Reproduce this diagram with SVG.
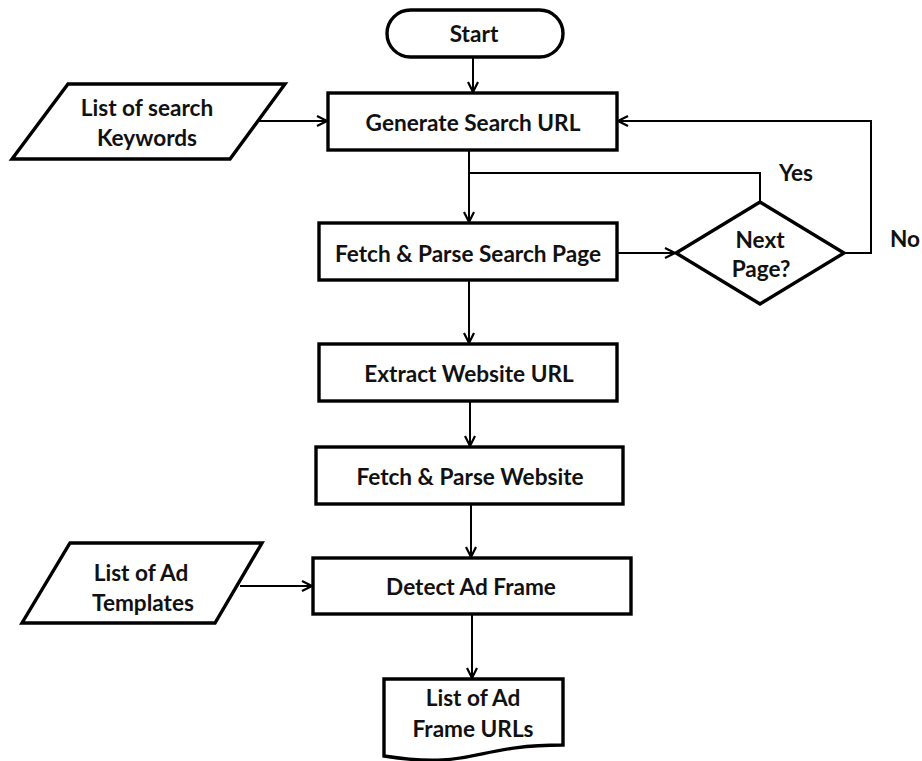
<svg xmlns="http://www.w3.org/2000/svg" width="922" height="761" viewBox="0 0 922 761">
<style>
.shape{fill:#fff;stroke:#000;stroke-width:3.4;stroke-linejoin:miter}
.t{font-family:Lato,"Open Sans",sans-serif;font-weight:bold;font-size:22.6px;fill:#111;text-anchor:middle;dominant-baseline:central}
.c{fill:none;stroke:#000;stroke-width:2}
</style>
<defs>
<marker id="arr" viewBox="0 0 12 12" refX="11" refY="6" markerWidth="12" markerHeight="12" markerUnits="userSpaceOnUse" orient="auto">
<path d="M1,1 L11,6 L1,11" fill="none" stroke="#000" stroke-width="2.2"/>
</marker>
</defs>
<rect width="922" height="761" fill="#fff"/>
<g id="connectors">
<path class="c" d="M473,57 V92" marker-end="url(#arr)"/>
<path class="c" d="M258,121 H327" marker-end="url(#arr)"/>
<path class="c" d="M469,150 V222" marker-end="url(#arr)"/>
<path class="c" d="M760,202 V173 H469"/>
<path class="c" d="M617,253 H675" marker-end="url(#arr)"/>
<path class="c" d="M844,253 H871 V121 H618" marker-end="url(#arr)"/>
<path class="c" d="M469,280 V343" marker-end="url(#arr)"/>
<path class="c" d="M470,401 V446" marker-end="url(#arr)"/>
<path class="c" d="M471,504 V557" marker-end="url(#arr)"/>
<path class="c" d="M240,586 H312" marker-end="url(#arr)"/>
<path class="c" d="M472,614 V678" marker-end="url(#arr)"/>
</g>
<g id="start">
<rect class="shape" x="387" y="10" width="176" height="47" rx="23.5"/>
<text class="t" x="474" y="33">Start</text>
</g>
<g id="keywords">
<polygon class="shape" points="68,84 285,84 230,159 12,159"/>
<text class="t" x="147" y="107">List of search</text>
<text class="t" x="147" y="137">Keywords</text>
</g>
<g id="generate">
<rect class="shape" x="328" y="93" width="289" height="57"/>
<text class="t" x="473" y="122">Generate Search URL</text>
</g>
<g id="fetch-search">
<rect class="shape" x="319" y="223" width="298" height="57"/>
<text class="t" x="468" y="253">Fetch &amp; Parse Search Page</text>
</g>
<g id="next-page">
<polygon class="shape" points="760,202 844,253 760,304 676,253"/>
<text class="t" x="760" y="239">Next</text>
<text class="t" x="761" y="268">Page?</text>
</g>
<text class="t" x="796" y="172">Yes</text>
<text class="t" x="905" y="238">No</text>
<g id="extract">
<rect class="shape" x="319" y="344" width="298" height="57"/>
<text class="t" x="469" y="373">Extract Website URL</text>
</g>
<g id="fetch-website">
<rect class="shape" x="316" y="447" width="307" height="57"/>
<text class="t" x="470" y="476">Fetch &amp; Parse Website</text>
</g>
<g id="templates">
<polygon class="shape" points="70,543 262,543 215,623 22,623"/>
<text class="t" x="141" y="572">List of Ad</text>
<text class="t" x="143" y="602">Templates</text>
</g>
<g id="detect">
<rect class="shape" x="313" y="558" width="318" height="56"/>
<text class="t" x="471" y="586">Detect Ad Frame</text>
</g>
<g id="ad-frame-urls">
<path class="shape" d="M384,679 H563 V745 C473,745 473,770 384,756 Z"/>
<text class="t" x="473" y="697">List of Ad</text>
<text class="t" x="473" y="728">Frame URLs</text>
</g>
</svg>
